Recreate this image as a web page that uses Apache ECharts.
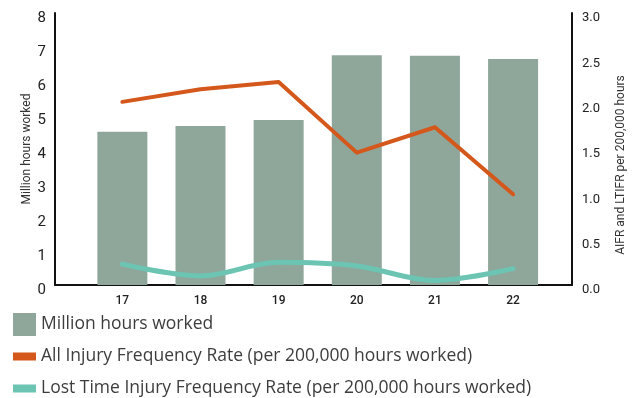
<!DOCTYPE html>
<html>
<head>
<meta charset="utf-8">
<script src="https://cdn.jsdelivr.net/npm/echarts@6/dist/echarts.min.js"></script>
<style>
  html, body { margin: 0; padding: 0; background: #ffffff; }
  #chart { width: 635px; height: 398px; }
</style>
</head>
<body>
<div id="chart"></div>
<script>
// Financial years (FY17 – FY22)
const years = [17, 18, 19, 20, 21, 22];
// Million hours worked per year
const hoursWorked = [4.51, 4.68, 4.85, 6.76, 6.74, 6.65];
// All Injury Frequency Rate (per 200,000 hours worked)
const aifr = [2.02, 2.16, 2.24, 1.46, 1.74, 1.00];
// Lost Time Injury Frequency Rate (per 200,000 hours worked)
const ltifr = [0.23, 0.10, 0.25, 0.21, 0.05, 0.18];
// Axis tick labels
const leftTicks = [0, 1, 2, 3, 4, 5, 6, 7, 8];
const rightTicks = ['0.0', '0.5', '1.0', '1.5', '2.0', '2.5', '3.0'];

const nameHours = 'Million hours worked';
const nameAifr = 'All Injury Frequency Rate (per 200,000 hours worked)';
const nameLtifr = 'Lost Time Injury Frequency Rate (per 200,000 hours worked)';

const FONT = 'Roboto, "Liberation Sans", sans-serif';
const LEGEND_FONT = '"Open Sans", Roboto, sans-serif';
const pair = (xs, ys) => xs.map((x, i) => [x, ys[i]]);

// One legend block per row so that each row sits at its own height
const legendRow = (name, icon, top) => ({
  orient: 'vertical',
  left: 13,
  top: top,
  itemWidth: 23,
  itemHeight: 23,
  padding: 0,
  selectedMode: false,
  textStyle: { fontSize: 17.5, lineHeight: 23, color: '#3d3d3d', fontFamily: LEGEND_FONT },
  data: [{ name: name, icon: icon }]
});
const BAR_ICON = 'path://M0 0H23V8H0Z';

const chart = echarts.init(document.getElementById('chart'), null, { renderer: 'canvas' });
chart.setOption({
  animation: false,
  backgroundColor: '#ffffff',
  textStyle: { fontFamily: FONT },
  grid: { left: 55, right: 58, top: 13, bottom: 113, containLabel: false },
  legend: [
    legendRow(nameHours, 'rect', 313),
    legendRow(nameAifr, BAR_ICON, 345),
    legendRow(nameLtifr, BAR_ICON, 377)
  ],
  xAxis: {
    type: 'value',
    min: 16.138,
    max: 22.754,
    splitLine: { show: false },
    axisTick: { show: false },
    axisLine: { show: true, onZero: false, lineStyle: { color: '#111', width: 2 } },
    axisLabel: {
      customValues: years,
      margin: 10,
      fontSize: 12,
      fontWeight: 500,
      color: '#222',
      formatter: v => String(v)
    }
  },
  yAxis: [
    {
      type: 'value',
      min: 0,
      max: 8,
      interval: 1,
      position: 'left',
      name: 'Million hours worked',
      nameLocation: 'middle',
      nameGap: 22,
      nameMoveOverlap: false,
      nameTextStyle: { fontSize: 12, color: '#333' },
      splitLine: { show: false },
      axisTick: { show: false },
      axisLine: { show: true, lineStyle: { color: '#111', width: 2 } },
      axisLabel: {
        margin: 9,
        fontSize: 15,
        color: '#222',
        verticalAlign: 'top',
        lineHeight: 10,
        formatter: v => String(leftTicks[Math.round(v)])
      }
    },
    {
      type: 'value',
      min: 0,
      max: 3,
      interval: 0.5,
      position: 'right',
      name: 'AIFR and LTIFR per 200,000 hours',
      nameLocation: 'middle',
      nameGap: 43,
      nameRotate: 90,
      nameTextStyle: { fontSize: 12, color: '#333', padding: [0, 32, 0, 0] },
      splitLine: { show: false },
      axisTick: { show: false },
      axisLine: { show: true, lineStyle: { color: '#111', width: 2 } },
      axisLabel: {
        margin: 10,
        fontSize: 13,
        color: '#222',
        verticalAlign: 'top',
        lineHeight: 10,
        formatter: v => rightTicks[Math.round(v * 2)]
      }
    }
  ],
  series: [
    {
      name: nameHours,
      type: 'bar',
      yAxisIndex: 0,
      barWidth: 50,
      itemStyle: { color: '#8fa69b' },
      data: pair(years, hoursWorked)
    },
    {
      name: nameAifr,
      type: 'line',
      yAxisIndex: 1,
      showSymbol: false,
      symbol: 'none',
      itemStyle: { color: '#d4571b' },
      lineStyle: { color: '#d4571b', width: 4, cap: 'round', join: 'round' },
      data: pair(years, aifr)
    },
    {
      name: nameLtifr,
      type: 'line',
      yAxisIndex: 1,
      smooth: 0.35,
      showSymbol: false,
      symbol: 'none',
      itemStyle: { color: '#6cc4b2' },
      lineStyle: { color: '#6cc4b2', width: 5, cap: 'round', join: 'round' },
      data: pair(years, ltifr)
    }
  ]
});
</script>
</body>
</html>
